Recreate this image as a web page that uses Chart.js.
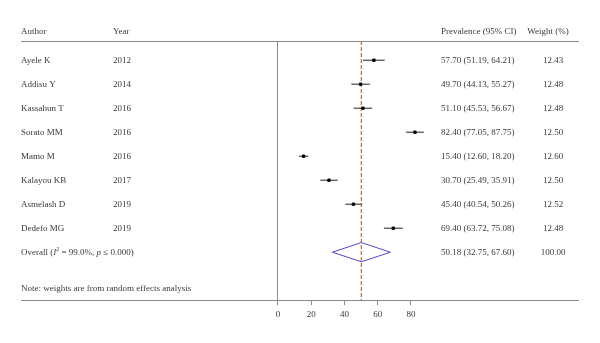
<!DOCTYPE html>
<html>
<head>
<meta charset="utf-8">
<script src="https://cdn.jsdelivr.net/npm/chart.js@4/dist/chart.umd.min.js"></script>
<style>
  html, body { margin: 0; padding: 0; background: #fff; }
  #wrap { width: 600px; height: 343px; position: relative; }
</style>
</head>
<body>
<div id="wrap"><canvas id="forest"></canvas></div>
<script>
// Study data
const authors = ["Ayele K", "Addisu Y", "Kassahun T", "Sorato MM", "Mamo M", "Kalayou KB", "Asmelash D", "Dedefo MG"];
const years = ["2012", "2014", "2016", "2016", "2016", "2017", "2019", "2019"];
const estimates = [57.70, 49.70, 51.10, 82.40, 15.40, 30.70, 45.40, 69.40];
const lowerCI = [51.19, 44.13, 45.53, 77.05, 12.60, 25.49, 40.54, 63.72];
const upperCI = [64.21, 55.27, 56.67, 87.75, 18.20, 35.91, 50.26, 75.08];
const weights = ["12.43", "12.48", "12.48", "12.50", "12.60", "12.50", "12.52", "12.48"];

// Pooled estimate
const overallEst = 50.18;
const overallLo = 32.75;
const overallHi = 67.60;
const overallLabel = "50.18 (32.75, 67.60)";
const overallWeight = "100.00";

const xTicks = [0, 20, 40, 60, 80];

const FONT = "'Liberation Serif', 'DejaVu Serif', serif";
const TEXT_COLOR = "#3a3a3a";
const LINE_COLOR = "#8a8a8a";

const overallRow = authors.length;

// Confidence interval segments, one dataset each
const ciDatasets = authors.map((a, i) => ({
  type: "line",
  order: 2,
  data: [{ x: lowerCI[i], y: i }, { x: upperCI[i], y: i }],
  borderColor: "#222",
  borderWidth: 1,
  pointRadius: 0,
  fill: false,
}));

function fmt(n) {
  return n.toFixed(2);
}

// Text columns drawn next to the plot
const textColumns = {
  id: "textColumns",
  afterDraw(chart) {
    const ctx = chart.ctx;
    const ys = chart.scales.y;
    ctx.save();
    ctx.fillStyle = TEXT_COLOR;
    ctx.font = "9px " + FONT;
    ctx.textBaseline = "middle";

    // header
    ctx.textAlign = "left";
    ctx.fillText("Author", 21, 32);
    ctx.fillText("Year", 113, 32);
    ctx.fillText("Prevalence (95% CI)", 441, 32);
    ctx.textAlign = "center";
    ctx.fillText("Weight (%)", 548, 32);

    authors.forEach((a, i) => {
      const y = ys.getPixelForValue(i);
      ctx.textAlign = "left";
      ctx.fillText(a, 21, y);
      ctx.fillText(years[i], 113, y);
      ctx.fillText(fmt(estimates[i]) + " (" + fmt(lowerCI[i]) + ", " + fmt(upperCI[i]) + ")", 441, y);
      ctx.textAlign = "center";
      ctx.fillText(weights[i], 553, y);
    });

    // overall row with I² text
    const yo = ys.getPixelForValue(overallRow);
    ctx.textAlign = "left";
    let x = 21;
    const parts = [
      ["Overall (", "normal"],
      ["I", "italic"],
      ["2", "sup"],
      [" = 99.0%, ", "normal"],
      ["p", "italic"],
      [" \u2264 0.000)", "normal"],
    ];
    parts.forEach(([t, style]) => {
      if (style === "italic") ctx.font = "italic 9px " + FONT;
      else if (style === "sup") ctx.font = "6px " + FONT;
      else ctx.font = "9px " + FONT;
      ctx.fillText(t, x, style === "sup" ? yo - 3 : yo);
      x += ctx.measureText(t).width;
    });
    ctx.font = "9px " + FONT;
    ctx.fillText(overallLabel, 441, yo);
    ctx.textAlign = "center";
    ctx.fillText(overallWeight, 553, yo);

    ctx.textAlign = "left";
    ctx.fillText("Note: weights are from random effects analysis", 21, ys.getPixelForValue(9.5));
    ctx.restore();
  },
};

new Chart(document.getElementById("forest"), {
  type: "scatter",
  data: {
    datasets: [
      // reference line at pooled estimate
      {
        type: "line",
        order: 4,
        data: [{ x: overallEst, y: -0.8 }, { x: overallEst, y: 10 }],
        borderColor: "#e8702e",
        borderWidth: 1.4,
        borderDash: [4, 2],
        pointRadius: 0,
        fill: false,
      },
      ...ciDatasets,
      // weight boxes
      {
        order: 1,
        data: estimates.map((e, i) => ({ x: e, y: i })),
        pointStyle: "rect",
        pointRadius: 2.5,
        backgroundColor: "#9a9a9a",
        borderWidth: 0,
      },
      // point estimates
      {
        order: 0,
        data: estimates.map((e, i) => ({ x: e, y: i })),
        pointStyle: "circle",
        pointRadius: 1.8,
        backgroundColor: "#000",
        borderWidth: 0,
      },
      // pooled diamond
      {
        type: "line",
        order: 1,
        data: [
          { x: overallLo, y: overallRow },
          { x: overallEst, y: overallRow - 0.4 },
          { x: overallHi, y: overallRow },
          { x: overallEst, y: overallRow + 0.4 },
          { x: overallLo, y: overallRow },
        ],
        borderColor: "#5548c4",
        borderWidth: 1,
        pointRadius: 0,
        tension: 0,
        fill: false,
      },
    ],
  },
  options: {
    responsive: true,
    maintainAspectRatio: false,
    animation: false,
    layout: { padding: { top: 33, left: 21, right: 22, bottom: 19 } },
    plugins: {
      legend: { display: false },
      tooltip: { enabled: false },
    },
    scales: {
      x: {
        type: "linear",
        position: "bottom",
        min: -154.6,
        max: 180.5,
        afterBuildTicks: (axis) => {
          axis.ticks = xTicks.map((v) => ({ value: v }));
        },
        grid: {
          drawOnChartArea: false,
          drawTicks: true,
          tickLength: 5,
          color: LINE_COLOR,
        },
        border: { display: true, color: LINE_COLOR, width: 1 },
        ticks: {
          color: TEXT_COLOR,
          font: { family: FONT, size: 9 },
          padding: 4,
          maxRotation: 0,
        },
      },
      xTop: {
        type: "linear",
        position: "top",
        min: -154.6,
        max: 180.5,
        grid: { display: false },
        border: { display: true, color: LINE_COLOR, width: 1 },
        ticks: { display: false },
      },
      y: {
        type: "linear",
        position: { x: 0 },
        reverse: true,
        min: -0.8,
        max: 10,
        grid: { display: false },
        border: { display: true, color: LINE_COLOR, width: 1 },
        ticks: { display: false },
      },
    },
  },
  plugins: [textColumns],
});
</script>
</body>
</html>
